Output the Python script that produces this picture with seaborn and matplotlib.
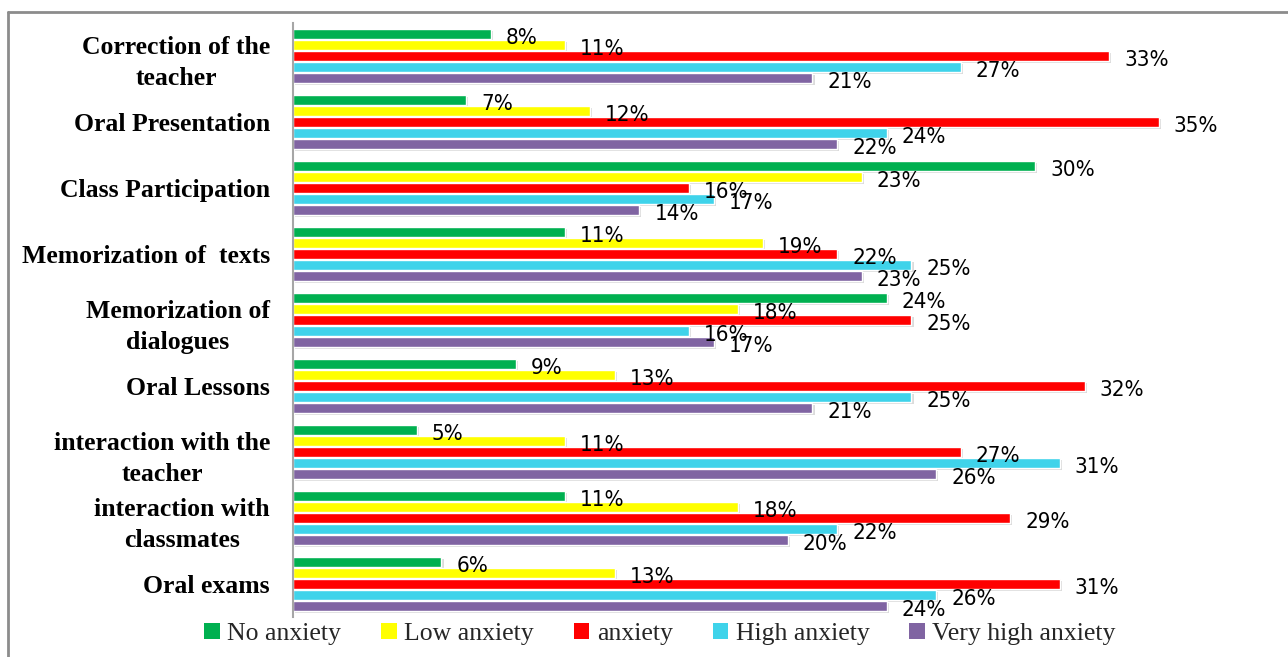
import matplotlib
matplotlib.use("Agg")
import matplotlib.pyplot as plt
import matplotlib.patheffects as pe
from matplotlib.patches import Patch
from matplotlib.lines import Line2D
import seaborn as sns
import pandas as pd

# Situations and anxiety levels
categories = [
    "Correction of the\nteacher",
    "Oral Presentation",
    "Class Participation",
    "Memorization of  texts",
    "Memorization of\ndialogues",
    "Oral Lessons",
    "interaction with the\nteacher",
    "interaction with\nclassmates",
    "Oral exams",
]
levels = ["No anxiety", "Low anxiety", "anxiety", "High anxiety", "Very high anxiety"]

# Percentages per anxiety level, one value per situation
no_anxiety = [8, 7, 30, 11, 24, 9, 5, 11, 6]
low_anxiety = [11, 12, 23, 19, 18, 13, 11, 18, 13]
anxiety = [33, 35, 16, 22, 25, 32, 27, 29, 31]
high_anxiety = [27, 24, 17, 25, 16, 25, 31, 22, 26]
very_high_anxiety = [21, 22, 14, 23, 17, 21, 26, 20, 24]

series = [no_anxiety, low_anxiety, anxiety, high_anxiety, very_high_anxiety]
colors = ["#00B050", "#FFFF00", "#FF0000", "#3FD3EA", "#8064A2"]

rows = []
for lvl, vals in zip(levels, series):
    for cat, v in zip(categories, vals):
        rows.append({"category": cat, "level": lvl, "value": v})
df = pd.DataFrame(rows)

sns.set_style("white")
fig = plt.figure(figsize=(12.88, 6.57), dpi=100)
ax = fig.add_axes([293 / 1288, 1 - 617 / 657, 940 / 1288, 594 / 657])

sns.barplot(
    data=df, y="category", x="value", hue="level", orient="h",
    order=categories, hue_order=levels, palette=colors,
    width=0.84, gap=0.0, saturation=1, legend=False, ax=ax,
)

shadow = [pe.SimplePatchShadow(offset=(1.5, -1.5), shadow_rgbFace="#9a9a9a", alpha=0.35), pe.Normal()]
for cont in ax.containers:
    for bar, val in zip(cont, cont.datavalues):
        # thin the bar slightly to leave a white gap between neighbours
        h = bar.get_height()
        bar.set_y(bar.get_y() + h * 0.06)
        bar.set_height(h * 0.88)
        bar.set_path_effects(shadow)
        ax.annotate(
            f"{val:.0f}%",
            xy=(bar.get_width(), bar.get_y() + bar.get_height() / 2),
            xytext=(15, -4), textcoords="offset pixels",
            ha="left", va="center", fontsize=16,
            fontfamily="DejaVu Sans", fontstretch="condensed", color="black",
            annotation_clip=False,
        )

ax.set_xlim(0, 38)
ax.set_ylim(len(categories) - 0.5, -0.5)
ax.set_xlabel("")
ax.set_ylabel("")
ax.set_xticks([])
ax.tick_params(axis="y", length=0, pad=16.5)
for lab in ax.get_yticklabels():
    lab.set_fontfamily("Liberation Serif")
    lab.set_fontweight("bold")
    lab.set_fontsize(18.5)
    lab.set_color("black")
    lab.set_multialignment("center")
    lab.set_linespacing(1.45)
for side in ["top", "right", "bottom"]:
    ax.spines[side].set_visible(False)
ax.spines["left"].set_color("#A6A6A6")
ax.spines["left"].set_linewidth(1.5)

handles = [Patch(facecolor=c, edgecolor="none") for c in colors]
fig.legend(
    handles, levels, loc="center", bbox_to_anchor=(660 / 1288, 1 - 634 / 657),
    ncol=5, frameon=False, handlelength=0.6, handleheight=0.6,
    handletextpad=0.3, columnspacing=1.55,
    prop={"family": "Liberation Serif", "size": 18.5},
)

# Outer frame
fig.add_artist(Line2D([8 / 1288, 8 / 1288], [0, 1 - 12 / 657], transform=fig.transFigure, color="#8c8c8c", lw=2))
fig.add_artist(Line2D([8 / 1288, 1], [1 - 12 / 657, 1 - 12 / 657], transform=fig.transFigure, color="#8c8c8c", lw=2))

fig.savefig("out.png", dpi=100)
